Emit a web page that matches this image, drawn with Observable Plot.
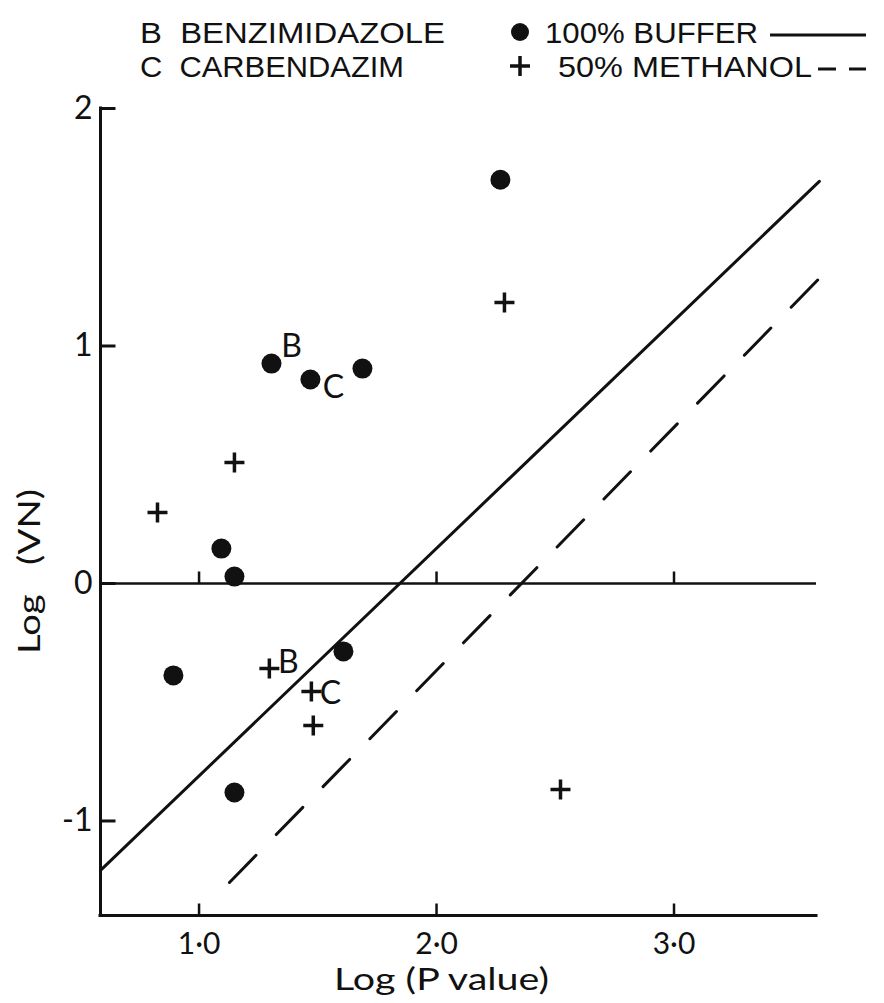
<!DOCTYPE html>
<html><head><meta charset="utf-8">
<script src="https://cdn.jsdelivr.net/npm/d3@7"></script>
<script src="https://cdn.jsdelivr.net/npm/@observablehq/plot@0.6"></script>
<style>
body{margin:0;background:#fff;}
#chart{width:884px;}
svg{display:block;}
</style>
</head><body><div id="chart"></div>
<script>
// ---- data ----
const bufferX = [2.269, 1.305, 1.469, 1.688, 1.094, 1.149, 0.892, 1.608, 1.149];
const bufferY = [1.700, 0.926, 0.859, 0.905, 0.147, 0.029, -0.387, -0.286, -0.880];
const methanolX = [2.286, 1.149, 0.825, 1.296, 1.473, 1.481, 2.522];
const methanolY = [1.183, 0.509, 0.299, -0.358, -0.455, -0.598, -0.867];
const bufferLineX = [0.585, 3.612];
const bufferLineY = [-1.208, 1.693];
const methanolLineX = [1.128, 3.620];
const methanolLineY = [-1.259, 1.293];
const xTicks = [1, 2, 3];
const xTickLabels = ["1·0", "2·0", "3·0"];
const yTicks = [-1, 0, 1, 2];
const yTickLabels = ["-1", "0", "1", "2"];
const compoundKeys = ["B\u00a0\u00a0BENZIMIDAZOLE", "C\u00a0\u00a0CARBENDAZIM"];
const seriesNames = ["100% BUFFER", "50% METHANOL"];
const xTitle = "Log (P value)";
const yTitle = "Log\u00a0\u00a0\u00a0(VN)";
const yTitleAt = 0.05;
// labelled points
const bufferLabelB = [{x: bufferX[1], y: bufferY[1], t: "B"}];
const bufferLabelC = [{x: bufferX[2], y: bufferY[2], t: "C"}];
const methanolLabelB = [{x: methanolX[3], y: methanolY[3], t: "B"}];
const methanolLabelC = [{x: methanolX[4], y: methanolY[4], t: "C"}];

const buffer = bufferX.map((x, i) => ({x, y: bufferY[i]}));
const methanol = methanolX.map((x, i) => ({x, y: methanolY[i]}));
const bufferLine = bufferLineX.map((x, i) => ({x, y: bufferLineY[i]}));
const methanolLine = methanolLineX.map((x, i) => ({x, y: methanolLineY[i]}));

const xDomain = [0.585, 3.6];
const yDomain = [-1.398, 2];
const ink = "#111";
const font = "Lato, 'Open Sans', sans-serif";
const legendFont = "'Liberation Sans', Arial, sans-serif";

// custom symbols
const plusSym = {draw(ctx) { const h = 10; ctx.moveTo(-h, 0); ctx.lineTo(h, 0); ctx.moveTo(0, -h); ctx.lineTo(0, h); }};
const upTick = {draw(ctx) { ctx.moveTo(0, 0); ctx.lineTo(0, -12); }};
const rightTick = {draw(ctx) { ctx.moveTo(0, 0); ctx.lineTo(15, 0); }};

// ---- legend (above the plot) ----
const legend = d3.create("svg").attr("width", 884).attr("height", 86)
  .style("font-family", legendFont).style("font-size", "30px").attr("fill", ink);
legend.append("text").attr("x", 140).attr("y", 43).attr("textLength", 305).attr("lengthAdjust", "spacingAndGlyphs").text(compoundKeys[0]);
legend.append("text").attr("x", 140).attr("y", 77).attr("textLength", 264).attr("lengthAdjust", "spacingAndGlyphs").text(compoundKeys[1]);
legend.append("circle").attr("cx", 520).attr("cy", 32).attr("r", 9).attr("fill", ink);
legend.append("text").attr("x", 545).attr("y", 43).attr("textLength", 213).attr("lengthAdjust", "spacingAndGlyphs").text(seriesNames[0]);
legend.append("line").attr("x1", 770).attr("x2", 866).attr("y1", 35).attr("y2", 35).attr("stroke", ink).attr("stroke-width", 3);
legend.append("path").attr("d", "M510,66H530M520,56V76").attr("stroke", ink).attr("stroke-width", 3.5).attr("fill", "none");
legend.append("text").attr("x", 558).attr("y", 77).attr("textLength", 254).attr("lengthAdjust", "spacingAndGlyphs").text(seriesNames[1]);
legend.append("line").attr("x1", 818).attr("x2", 866).attr("y1", 69).attr("y2", 69).attr("stroke", ink).attr("stroke-width", 3).attr("stroke-dasharray", "18,13");

// ---- plot ----
const chart = Plot.plot({
  width: 884, height: 917,
  marginLeft: 100, marginRight: 68, marginTop: 22, marginBottom: 88,
  x: {domain: xDomain, axis: null},
  y: {domain: yDomain, axis: null},
  style: {fontFamily: font, fontSize: "30px", color: ink, background: "#fff"},
  marks: [
    // axes lines
    Plot.ruleX([xDomain[0]], {y1: yTicks[yTicks.length - 1], y2: yDomain[0], stroke: ink, strokeWidth: 3, strokeLinecap: "square"}),
    Plot.ruleY([yDomain[0]], {x1: xDomain[0], x2: xDomain[1], stroke: ink, strokeWidth: 3, strokeLinecap: "square"}),
    Plot.ruleY([0], {x1: xDomain[0], x2: xDomain[1], stroke: ink, strokeWidth: 2.5}),
    // inward ticks
    Plot.dot(yTicks, {x: xDomain[0], y: d => d, symbol: rightTick, stroke: ink, strokeWidth: 3, fill: "none"}),
    Plot.dot(xTicks, {x: d => d, y: yDomain[0], symbol: upTick, stroke: ink, strokeWidth: 2.5, fill: "none"}),
    Plot.dot(xTicks, {x: d => d, y: 0, symbol: upTick, stroke: ink, strokeWidth: 2.5, fill: "none"}),
    // tick labels
    Plot.text(yTicks, {x: xDomain[0], y: d => d, text: d => yTickLabels[yTicks.indexOf(d)], textAnchor: "end", dx: -8, fontSize: 32, fill: ink}),
    Plot.text(xTicks, {x: d => d, y: yDomain[0], text: d => xTickLabels[xTicks.indexOf(d)], lineAnchor: "top", dy: 17, fontSize: 30, fill: ink}),
    // axis titles
    Plot.text([xTitle], {frameAnchor: "bottom", text: d => d, dx: -17, dy: 74, fontSize: 31, fill: ink}),
    Plot.text([yTitle], {x: xDomain[0], y: yTitleAt, text: d => d, rotate: -90, dx: -70, fontSize: 31, fill: ink}),
    // fitted lines
    Plot.line(bufferLine, {x: "x", y: "y", stroke: ink, strokeWidth: 3}),
    Plot.line(methanolLine, {x: "x", y: "y", stroke: ink, strokeWidth: 3, strokeDasharray: "38,29"}),
    // points
    Plot.dot(buffer, {x: "x", y: "y", r: 10, fill: ink, stroke: "none"}),
    Plot.dot(methanol, {x: "x", y: "y", symbol: plusSym, stroke: ink, strokeWidth: 3.5, fill: "none"}),
    // point labels
    Plot.text(bufferLabelB, {x: "x", y: "y", text: "t", dx: 20, dy: -17, fontSize: 32, fill: ink}),
    Plot.text(bufferLabelC, {x: "x", y: "y", text: "t", dx: 23, dy: 8, fontSize: 32, fill: ink}),
    Plot.text(methanolLabelB, {x: "x", y: "y", text: "t", dx: 19, dy: -6, fontSize: 32, fill: ink}),
    Plot.text(methanolLabelC, {x: "x", y: "y", text: "t", dx: 19, dy: 2, fontSize: 32, fill: ink})
  ]
});

// stretch the axis titles to the lettering widths of the original
d3.select(chart).selectAll("text").each(function() {
  const t = this.textContent;
  if (t === xTitle) d3.select(this).attr("textLength", 215).attr("lengthAdjust", "spacingAndGlyphs");
  if (t === yTitle) d3.select(this).attr("textLength", 165).attr("lengthAdjust", "spacingAndGlyphs");
});

const root = document.getElementById("chart");
root.appendChild(legend.node());
root.appendChild(chart);
</script>
</body></html>
